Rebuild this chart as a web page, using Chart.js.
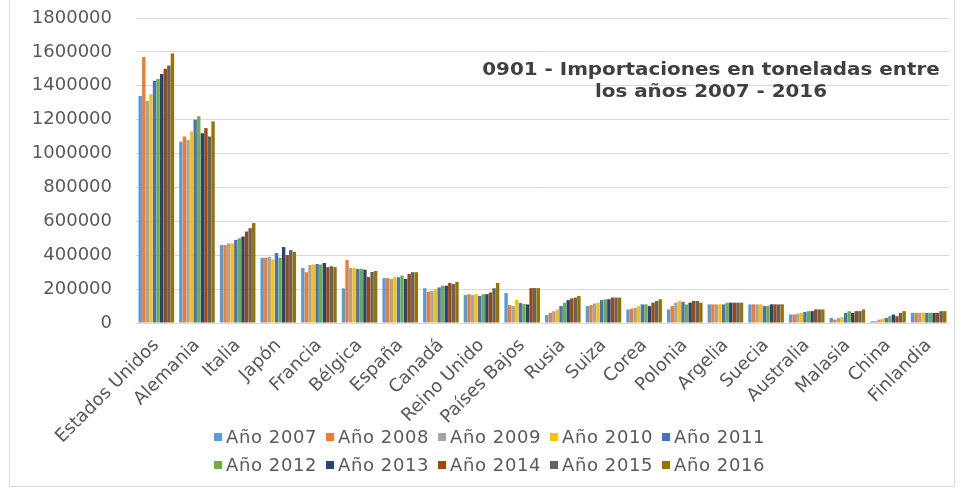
<!DOCTYPE html>
<html>
<head>
<meta charset="utf-8">
<script src="https://cdn.jsdelivr.net/npm/chart.js@4"></script>
<style>
  html, body { margin: 0; padding: 0; background: #fff; }
  body { width: 961px; height: 494px; position: relative; overflow: hidden; font-family: "DejaVu Sans", sans-serif; }
  #frame { position: absolute; left: 9px; top: -2px; width: 946px; height: 489px; border: 1px solid #d9d9d9; box-sizing: border-box; }
  #wrap { position: absolute; left: 0; top: 0; width: 961px; height: 494px; }
  #title { position: absolute; left: 471px; width: 480px; top: 58px; text-align: center; font-weight: bold; font-size: 17px; line-height: 22px; color: #404040; transform: scaleX(1.17); transform-origin: 50% 0; }
  #legend { position: absolute; left: 214px; top: 426px; width: 600px; display: grid; grid-template-columns: repeat(5, 112px); row-gap: 6px; font-size: 18px; letter-spacing: 0.6px; color: #595959; }
  .lg { display: flex; align-items: center; white-space: nowrap; line-height: 22px; }
  .lg i { display: inline-block; width: 8px; height: 8px; margin-right: 4px; }
</style>
</head>
<body>
<div id="frame"></div>
<div id="wrap"><canvas id="chart"></canvas></div>
<div id="title">0901 - Importaciones en toneladas entre<br>los años 2007 - 2016</div>
<div id="legend"></div>
<script>
/* ── data (toneladas) ─────────────────────────── */
const countries = ['Estados Unidos','Alemania','Italia','Japón','Francia','Bélgica','España','Canadá','Reino Unido','Países Bajos',
                   'Rusia','Suiza','Corea','Polonia','Argelia','Suecia','Australia','Malasia','China','Finlandia'];

const y2007 = [1340000,1070000,460000,385000,325000,205000,265000,205000,165000,177000, 47000,100000, 80000, 80000,110000,110000,50000,30000,10000,60000];
const y2008 = [1570000,1100000,460000,385000,300000,372000,265000,185000,170000,106000, 60000,105000, 85000,100000,110000,110000,50000,20000,10000,60000];
const y2009 = [1310000,1080000,470000,390000,342000,325000,260000,190000,165000,100000, 70000,115000, 90000,120000,110000,110000,55000,30000,20000,60000];
const y2010 = [1350000,1130000,470000,375000,345000,325000,270000,200000,170000,136000, 80000,120000,100000,130000,110000,110000,60000,35000,25000,60000];
const y2011 = [1430000,1200000,490000,413000,348000,319000,270000,210000,160000,118000,100000,135000,110000,125000,110000,100000,65000,60000,30000,60000];
const y2012 = [1440000,1220000,500000,385000,345000,320000,280000,220000,170000,112000,120000,140000,110000,110000,120000,100000,70000,70000,40000,60000];
const y2013 = [1470000,1120000,510000,448000,354000,315000,260000,220000,170000,110000,135000,140000,100000,120000,120000,110000,70000,60000,50000,60000];
const y2014 = [1500000,1150000,540000,401000,330000,271000,290000,236000,180000,206000,145000,150000,120000,130000,120000,110000,80000,70000,40000,60000];
const y2015 = [1520000,1100000,560000,430000,335000,301000,300000,230000,205000,206000,150000,150000,130000,130000,120000,110000,80000,70000,60000,70000];
const y2016 = [1590000,1190000,590000,420000,330000,307000,300000,242000,236000,206000,160000,150000,140000,120000,120000,110000,80000,80000,70000,70000];

const years  = ['Año 2007','Año 2008','Año 2009','Año 2010','Año 2011','Año 2012','Año 2013','Año 2014','Año 2015','Año 2016'];
const series = [y2007,y2008,y2009,y2010,y2011,y2012,y2013,y2014,y2015,y2016];
const COLORS = ['#5b9bd5','#ed7d31','#a5a5a5','#ffc000','#4472c4','#70ad47','#264478','#9e480e','#636363','#997300'];

const yTicks = [0,200000,400000,600000,800000,1000000,1200000,1400000,1600000,1800000];

/* ── chart ───────────────────────────────────── */
const FONT = "'DejaVu Sans', sans-serif";

new Chart(document.getElementById('chart'), {
  type: 'bar',
  data: {
    labels: countries,
    datasets: series.map((d, i) => ({
      label: years[i], data: d, backgroundColor: COLORS[i], borderWidth: 0,
      categoryPercentage: 0.88, barPercentage: 0.95
    }))
  },
  options: {
    responsive: true, maintainAspectRatio: false, animation: false,
    layout: { padding: { left: 10, right: 12, top: 0, bottom: 0 } },
    plugins: { legend: { display: false }, tooltip: { enabled: false } },
    scales: {
      x: {
        grid: { display: false },
        border: { display: false },
        ticks: { color: '#595959', font: { family: FONT, size: 18 }, minRotation: 45, maxRotation: 45, autoSkip: false, padding: 4 },
        afterFit: s => { s.height = 171; }
      },
      y: {
        min: 0, max: 1800000,
        afterBuildTicks: s => { s.ticks = yTicks.map(v => ({ value: v })); },
        grid: { color: '#d9d9d9', drawTicks: false },
        border: { display: false },
        ticks: { color: '#595959', font: { family: FONT, size: 18 }, padding: 24, callback: v => String(v) },
        afterFit: s => { s.width = 126; s.paddingTop = 18; }
      }
    }
  }
});

// legend: 5 per row like the original
document.getElementById('legend').innerHTML =
  years.map((y, i) => `<div class="lg"><i style="background:${COLORS[i]}"></i>${y}</div>`).join('');
</script>
</body>
</html>
